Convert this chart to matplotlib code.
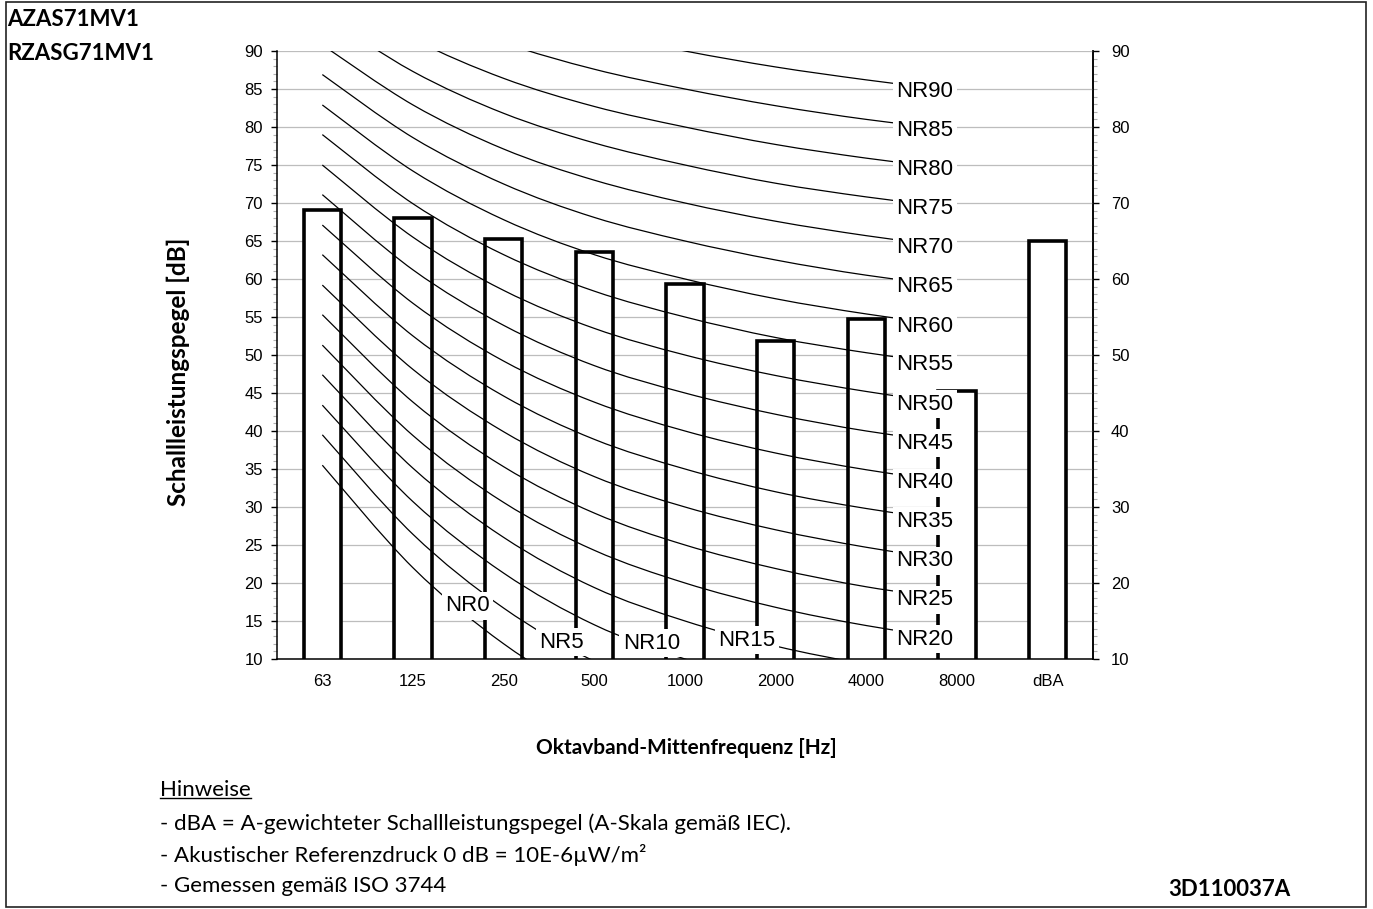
import numpy as np
import matplotlib
matplotlib.use("Agg")
import matplotlib.pyplot as plt
from matplotlib.path import Path
from matplotlib.patches import PathPatch, Rectangle
from matplotlib.ticker import MultipleLocator
from matplotlib.lines import Line2D

# octave bands and measured sound power levels
bands = ["63", "125", "250", "500", "1000", "2000", "4000", "8000", "dBA"]
levels = [69.1, 68.0, 65.2, 63.6, 59.3, 51.8, 54.8, 45.2, 65.0]

# NR curves, values at 63 ... 8000 Hz
nr_names = [0, 5, 10, 15, 20, 25, 30, 35, 40, 45, 50, 55, 60, 65, 70, 75, 80, 85, 90]
nr_levels = [
    [35.5, 22.0, 12.0, 4.8, 0.0, -3.5, -6.1, -8.0],
    [39.5, 26.4, 16.7, 9.7, 5.0, 1.6, -1.0, -2.9],
    [43.4, 30.7, 21.3, 14.5, 10.0, 6.7, 4.2, 2.3],
    [47.4, 35.1, 26.0, 19.4, 15.0, 11.7, 9.3, 7.5],
    [51.3, 39.4, 30.6, 24.3, 20.0, 16.8, 14.4, 12.6],
    [55.3, 43.8, 35.3, 29.2, 25.0, 21.9, 19.5, 17.8],
    [59.2, 48.1, 39.9, 34.0, 30.0, 27.0, 24.7, 22.9],
    [63.2, 52.5, 44.6, 38.9, 35.0, 32.0, 29.8, 28.1],
    [67.1, 56.8, 49.2, 43.8, 40.0, 37.1, 34.9, 33.2],
    [71.1, 61.2, 53.9, 48.6, 45.0, 42.2, 40.0, 38.4],
    [75.0, 65.5, 58.5, 53.5, 50.0, 47.3, 45.2, 43.5],
    [79.0, 69.9, 63.2, 58.4, 55.0, 52.3, 50.3, 48.7],
    [82.9, 74.2, 67.8, 63.2, 60.0, 57.4, 55.4, 53.8],
    [86.9, 78.6, 72.5, 68.1, 65.0, 62.5, 60.5, 59.0],
    [90.8, 82.9, 77.1, 73.0, 70.0, 67.6, 65.7, 64.1],
    [94.8, 87.3, 81.8, 77.9, 75.0, 72.6, 70.8, 69.3],
    [98.7, 91.6, 86.4, 82.7, 80.0, 77.7, 75.9, 74.4],
    [102.7, 96.0, 91.1, 87.6, 85.0, 82.8, 81.0, 79.6],
    [106.6, 100.3, 95.7, 92.5, 90.0, 87.9, 86.2, 84.7],
]
# where the low NR labels sit along their curves (band index, dB)
low_label_pos = [(1.6, 17.0), (2.64, 12.2), (3.63, 12.1), (4.68, 12.5)]

chart_font = "Liberation Sans"
text_font = "Lato"


def smooth_path(xs, ys):
    # excel-like smoothed line through the points
    verts = [(xs[0], ys[0])]
    codes = [Path.MOVETO]
    n = len(xs)
    for i in range(n - 1):
        a = max(i - 1, 0)
        d = min(i + 2, n - 1)
        c1 = (xs[i] + (xs[i + 1] - xs[a]) / 6, ys[i] + (ys[i + 1] - ys[a]) / 6)
        c2 = (xs[i + 1] - (xs[d] - xs[i]) / 6, ys[i + 1] - (ys[d] - ys[i]) / 6)
        verts += [c1, c2, (xs[i + 1], ys[i + 1])]
        codes += [Path.CURVE4] * 3
    return Path(verts, codes)


fig = plt.figure(figsize=(13.73, 9.09), dpi=100)
ax = fig.add_axes([277 / 1373, 250 / 909, 816 / 1373, 608 / 909])

x = np.arange(len(bands))
ax.bar(x, levels, width=0.41, color="white", edgecolor="black", linewidth=2.6, zorder=2)

xs = x[:8]
for name, vals in zip(nr_names, nr_levels):
    ax.add_patch(PathPatch(smooth_path(xs, vals), fill=False, color="black", lw=0.9, zorder=3))
    box = dict(facecolor="white", edgecolor="none", pad=2.5)
    if name >= 20:
        ax.text(xs[-1] - 0.04, vals[-1], f"NR{name}", ha="right", va="center",
                fontsize=16, family=chart_font, bbox=box, zorder=5, clip_on=False)
    else:
        px, py = low_label_pos[nr_names.index(name)]
        ax.text(px, py, f"NR{name}", ha="center", va="center",
                fontsize=16, family=chart_font, bbox=box, zorder=5, clip_on=False)

ax.set_xlim(-0.5, len(bands) - 0.5)
ax.set_ylim(10, 90)
ax.set_xticks(x)
ax.set_xticklabels(bands, family=chart_font, fontsize=12)
ax.tick_params(axis="x", length=0, pad=11)
ax.yaxis.set_major_locator(MultipleLocator(5))
ax.yaxis.set_minor_locator(MultipleLocator(1))
ax.tick_params(axis="y", which="major", length=4, width=1, pad=6, labelsize=12)
ax.tick_params(axis="y", which="minor", length=3, width=0.8, color="#b0b0b0")
for lab in ax.get_yticklabels():
    lab.set_family(chart_font)
ax.grid(axis="y", color="#bdbdbd", lw=0.9, zorder=0)
ax.set_axisbelow(True)
ax.spines["top"].set_visible(False)
for s in ["left", "bottom", "right"]:
    ax.spines[s].set_linewidth(1.1)

ax2 = ax.twinx()
ax2.set_ylim(10, 90)
ax2.yaxis.set_major_locator(MultipleLocator(10))
ax2.yaxis.set_minor_locator(MultipleLocator(1))
ax2.tick_params(axis="y", which="major", length=4, width=1, pad=9, labelsize=12)
ax2.tick_params(axis="y", which="minor", length=3, width=0.8, color="#b0b0b0")
for lab in ax2.get_yticklabels():
    lab.set_family(chart_font)
for s in ["top", "left", "bottom"]:
    ax2.spines[s].set_visible(False)
ax2.spines["right"].set_linewidth(1.1)
ax2.set_zorder(ax.get_zorder() - 1)
ax.patch.set_visible(False)


def fx(px):
    return px / 1373


def fy(py):
    return 1 - py / 909


fig.text(fx(7), fy(20), "AZAS71MV1", family=text_font, weight="bold", fontsize=16, va="center")
fig.text(fx(7), fy(53), "RZASG71MV1", family=text_font, weight="bold", fontsize=16, va="center")
fig.text(fx(178), fy(372), "Schallleistungspegel [dB]", family=text_font, weight="bold",
         fontsize=17.5, rotation=90, ha="center", va="center")
fig.text(fx(686), fy(748), "Oktavband-Mittenfrequenz [Hz]", family=text_font, weight="bold",
         fontsize=15, ha="center", va="center")
hint = fig.text(fx(160), fy(790), "Hinweise", family=text_font, fontsize=16, va="center")
notes = ["- dBA = A-gewichteter Schallleistungspegel (A-Skala gemäß IEC).",
         "- Akustischer Referenzdruck 0 dB = 10E-6µW/m²",
         "- Gemessen gemäß ISO 3744"]
for i, line in enumerate(notes):
    fig.text(fx(160), fy(824 + 31 * i), line, family=text_font, fontsize=16, va="center")
fig.text(fx(1229), fy(890), "3D110037A", family=text_font, weight="bold", fontsize=16,
         ha="center", va="center")

# underline for "Hinweise"
fig.canvas.draw()
bb = hint.get_window_extent()
fig.add_artist(Line2D([bb.x0 / 1373, bb.x1 / 1373], [(bb.y0 + 2) / 909] * 2,
                      transform=fig.transFigure, color="black", lw=1))

fig.add_artist(Rectangle((fx(6), fy(907)), fx(1366) - fx(6), fy(2) - fy(907),
                         transform=fig.transFigure, fill=False, edgecolor="#222222", lw=1.2))

fig.savefig("out.png", dpi=100)
